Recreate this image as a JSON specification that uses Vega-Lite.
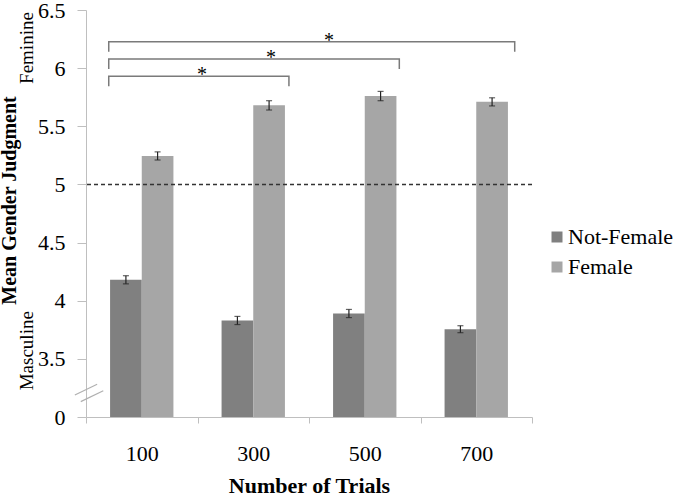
{
  "$schema": "https://vega.github.io/schema/vega-lite/v6.json",
  "description": "Mean gender judgment by number of trials, Not-Female vs Female.",
  "autosize": "none",
  "padding": {"left": 86, "top": 10, "right": 148, "bottom": 80},
  "width": 446,
  "height": 407,
  "datasets": {
    "bars": [
      {"trials": 100, "group": "Not-Female", "mean": 4.18, "lo": 4.145, "hi": 4.215},
      {"trials": 100, "group": "Female", "mean": 5.245, "lo": 5.21, "hi": 5.28},
      {"trials": 300, "group": "Not-Female", "mean": 3.83, "lo": 3.795, "hi": 3.865},
      {"trials": 300, "group": "Female", "mean": 5.68, "lo": 5.64, "hi": 5.72},
      {"trials": 500, "group": "Not-Female", "mean": 3.89, "lo": 3.855, "hi": 3.925},
      {"trials": 500, "group": "Female", "mean": 5.76, "lo": 5.72, "hi": 5.8},
      {"trials": 700, "group": "Not-Female", "mean": 3.755, "lo": 3.725, "hi": 3.785},
      {"trials": 700, "group": "Female", "mean": 5.71, "lo": 5.675, "hi": 5.745}
    ],
    "brackets": [
      {"bracket": "a", "step": 1, "bx": 0.204, "by": 5.844},
      {"bracket": "a", "step": 2, "bx": 0.204, "by": 5.93},
      {"bracket": "a", "step": 3, "bx": 1.82, "by": 5.93},
      {"bracket": "a", "step": 4, "bx": 1.82, "by": 5.844},
      {"bracket": "b", "step": 1, "bx": 0.204, "by": 5.993},
      {"bracket": "b", "step": 2, "bx": 0.204, "by": 6.079},
      {"bracket": "b", "step": 3, "bx": 2.81, "by": 6.079},
      {"bracket": "b", "step": 4, "bx": 2.81, "by": 5.993},
      {"bracket": "c", "step": 1, "bx": 0.204, "by": 6.141},
      {"bracket": "c", "step": 2, "bx": 0.204, "by": 6.227},
      {"bracket": "c", "step": 3, "bx": 3.845, "by": 6.227},
      {"bracket": "c", "step": 4, "bx": 3.845, "by": 6.141}
    ],
    "stars": [
      {"label": "*", "tx": 1.04, "ty": 5.93},
      {"label": "*", "tx": 1.66, "ty": 6.079},
      {"label": "*", "tx": 2.18, "ty": 6.227}
    ],
    "breaks": [
      {"x1": -0.1, "x2": 0.1, "y1": 3.189, "y2": 3.281},
      {"x1": -0.047, "x2": 0.155, "y1": 3.132, "y2": 3.226}
    ],
    "sides": [
      {"label": "Feminine", "tx": -0.475, "ty": 6.173},
      {"label": "Masculine", "tx": -0.475, "ty": 3.57}
    ],
    "midpoint": [
      {"value": 5}
    ]
  },
  "layer": [
    {
      "data": {"name": "bars"},
      "mark": {"type": "bar"},
      "encoding": {
        "x": {
          "field": "trials",
          "type": "ordinal",
          "scale": {"paddingInner": 0, "paddingOuter": 0},
          "axis": {
            "title": "Number of Trials",
            "labelAngle": 0,
            "tickBand": "extent",
            "domainColor": "#bfbfbf",
            "tickColor": "#bfbfbf",
            "tickSize": 6,
            "labelFontSize": 22,
            "labelPadding": 20,
            "titleFontSize": 22,
            "titleFontWeight": "bold",
            "titlePadding": 11
          }
        },
        "xOffset": {
          "field": "group",
          "sort": ["Not-Female", "Female"],
          "scale": {"paddingInner": 0, "paddingOuter": 0.76}
        },
        "y": {
          "field": "mean",
          "type": "quantitative",
          "scale": {"domain": [3, 6.5]},
          "axis": {
            "title": "Mean Gender Judgment",
            "values": [3, 3.5, 4, 4.5, 5, 5.5, 6, 6.5],
            "format": "~g",
            "labelExpr": "datum.value == 3 ? '0' : datum.label",
            "grid": false,
            "domainColor": "#bfbfbf",
            "tickColor": "#bfbfbf",
            "tickSize": 9,
            "labelPadding": 12,
            "labelFontSize": 22,
            "titleFontSize": 20,
            "titleFontWeight": "bold",
            "titleX": -67,
            "titleY": 190
          }
        },
        "y2": {"datum": 3},
        "color": {
          "field": "group",
          "type": "nominal",
          "sort": ["Not-Female", "Female"],
          "scale": {"domain": ["Not-Female", "Female"], "range": ["#808080", "#a6a6a6"]},
          "legend": {
            "title": null,
            "orient": "none",
            "legendX": 460,
            "legendY": 216,
            "symbolType": "square",
            "symbolSize": 121,
            "symbolStrokeWidth": 0,
            "labelFontSize": 22,
            "labelOffset": 0,
            "rowPadding": 8,
            "padding": 0
          }
        }
      }
    },
    {
      "data": {"name": "bars"},
      "mark": {"type": "rule", "color": "#222222", "strokeWidth": 1.2},
      "encoding": {
        "x": {"field": "trials", "type": "ordinal", "scale": {"paddingInner": 0, "paddingOuter": 0}, "axis": null},
        "xOffset": {"field": "group", "sort": ["Not-Female", "Female"]},
        "y": {"field": "lo", "type": "quantitative"},
        "y2": {"field": "hi"}
      }
    },
    {
      "data": {"name": "bars"},
      "mark": {"type": "tick", "color": "#222222", "size": 6, "thickness": 1.2},
      "encoding": {
        "x": {"field": "trials", "type": "ordinal", "scale": {"paddingInner": 0, "paddingOuter": 0}, "axis": null},
        "xOffset": {"field": "group", "sort": ["Not-Female", "Female"]},
        "y": {"field": "lo", "type": "quantitative"}
      }
    },
    {
      "data": {"name": "bars"},
      "mark": {"type": "tick", "color": "#222222", "size": 6, "thickness": 1.2},
      "encoding": {
        "x": {"field": "trials", "type": "ordinal", "scale": {"paddingInner": 0, "paddingOuter": 0}, "axis": null},
        "xOffset": {"field": "group", "sort": ["Not-Female", "Female"]},
        "y": {"field": "hi", "type": "quantitative"}
      }
    },
    {
      "data": {"name": "brackets"},
      "mark": {"type": "line", "color": "#7a7a7a", "strokeWidth": 1.5},
      "encoding": {
        "x": {"field": "bx", "type": "quantitative", "scale": {"domain": [0, 4]}, "axis": null},
        "y": {"field": "by", "type": "quantitative"},
        "detail": {"field": "bracket"},
        "order": {"field": "step"}
      }
    },
    {
      "data": {"name": "stars"},
      "mark": {"type": "text", "fontSize": 20, "baseline": "alphabetic", "dy": 5, "color": "black"},
      "encoding": {
        "x": {"field": "tx", "type": "quantitative", "scale": {"domain": [0, 4]}, "axis": null},
        "y": {"field": "ty", "type": "quantitative"},
        "text": {"field": "label"}
      }
    },
    {
      "data": {"name": "breaks"},
      "mark": {"type": "rule", "color": "#b0b0b0", "strokeWidth": 1.2},
      "encoding": {
        "x": {"field": "x1", "type": "quantitative", "scale": {"domain": [0, 4]}, "axis": null},
        "x2": {"field": "x2"},
        "y": {"field": "y1", "type": "quantitative"},
        "y2": {"field": "y2"}
      }
    },
    {
      "data": {"name": "sides"},
      "mark": {"type": "text", "fontSize": 19, "angle": 270, "align": "center", "baseline": "alphabetic", "color": "black"},
      "encoding": {
        "x": {"field": "tx", "type": "quantitative", "scale": {"domain": [0, 4]}, "axis": null},
        "y": {"field": "ty", "type": "quantitative"},
        "text": {"field": "label"}
      }
    },
    {
      "data": {"name": "midpoint"},
      "mark": {"type": "rule", "color": "#333333", "strokeWidth": 1.5, "strokeDash": [4, 3]},
      "encoding": {
        "y": {"field": "value", "type": "quantitative"}
      }
    }
  ],
  "resolve": {"scale": {"x": "independent"}},
  "config": {
    "font": "Liberation Serif",
    "view": {"stroke": null},
    "axis": {"labelColor": "black", "titleColor": "black", "labelFont": "Liberation Serif", "titleFont": "Liberation Serif"},
    "legend": {"labelColor": "black", "labelFont": "Liberation Serif"}
  }
}
